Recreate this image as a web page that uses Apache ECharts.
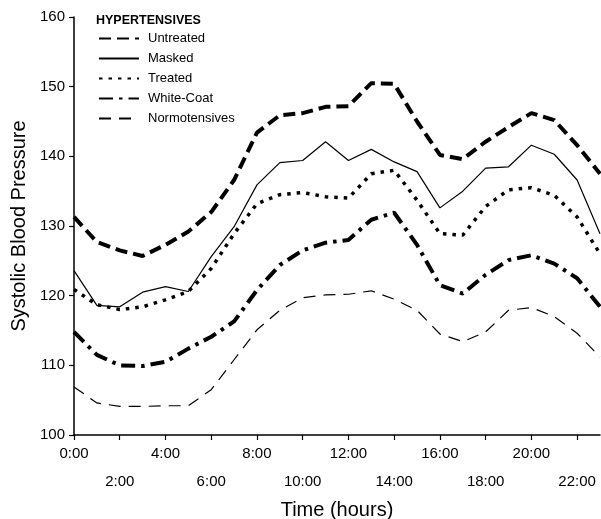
<!DOCTYPE html>
<html>
<head>
<meta charset="utf-8">
<script src="https://cdn.jsdelivr.net/npm/echarts@6/dist/echarts.min.js"></script>
<style>
html,body{margin:0;padding:0;background:#fff;}
#chart{width:601px;height:519px;}
</style>
</head>
<body>
<div id="chart"></div>
<script>
const hours = ['0:00','1:00','2:00','3:00','4:00','5:00','6:00','7:00','8:00','9:00','10:00','11:00',
  '12:00','13:00','14:00','15:00','16:00','17:00','18:00','19:00','20:00','21:00','22:00','23:00'];

const untreated = [131.3,127.7,126.5,125.7,127.3,129.2,132.0,136.6,143.4,145.9,146.2,147.1,
  147.2,150.5,150.4,145.0,140.2,139.6,142.1,144.2,146.2,145.2,141.6,137.5];
const masked = [123.6,118.6,118.4,120.5,121.3,120.6,125.6,129.9,135.9,139.1,139.4,142.1,
  139.4,141.0,139.2,137.8,132.6,135.0,138.3,138.5,141.6,140.3,136.6,128.9];
const treated = [120.9,118.7,118.0,118.4,119.4,120.6,123.9,128.9,133.2,134.5,134.8,134.2,
  134.0,137.5,138.0,133.7,128.9,128.7,132.8,135.2,135.5,134.4,131.3,126.0];
const whiteCoat = [114.8,111.5,110.0,109.9,110.5,112.4,114.1,116.3,120.8,124.4,126.5,127.6,
  128.0,130.9,131.9,127.3,121.5,120.3,123.0,125.1,125.8,124.6,122.5,118.4];
const normotensives = [106.9,104.6,104.1,104.1,104.2,104.2,106.5,110.8,115.1,117.9,119.7,120.1,
  120.2,120.7,119.5,117.9,114.5,113.4,114.8,117.9,118.3,117.0,114.6,111.2];

const seriesNames = ['Untreated','Masked','Treated','White-Coat','Normotensives'];
const yTicks = {min:100, max:160, interval:10};

const FONT = '"Liberation Sans", Arial, sans-serif';

const styles = [
  {width:4, type:[12,6]},
  {width:1.2, type:'solid'},
  {width:3.5, type:[3.5,6]},
  {width:4, type:[14,6,3.5,6]},
  {width:1.2, type:[12,8]}
];
const dataSets = [untreated, masked, treated, whiteCoat, normotensives];

const chart = echarts.init(document.getElementById('chart'), null, {renderer:'canvas'});
chart.setOption({
  animation:false,
  backgroundColor:'#fff',
  title:{
    text:'HYPERTENSIVES',
    left:91, top:9,
    textStyle:{fontFamily:FONT, fontSize:12.5, fontWeight:'bold', color:'#000'}
  },
  legend:{
    orient:'vertical',
    left:93, top:27,
    itemWidth:40, itemHeight:14, itemGap:7,
    data:seriesNames,
    itemStyle:{opacity:0},
    textStyle:{fontFamily:FONT, fontSize:13, color:'#000', padding:[0,0,0,4]},
    inactiveColor:'#000'
  },
  grid:{left:74, right:1, top:17, bottom:84, containLabel:false, outerBoundsMode:'none'},
  xAxis:{
    type:'category',
    data:hours,
    boundaryGap:false,
    name:'Time (hours)',
    nameLocation:'middle',
    nameGap:54,
    nameTextStyle:{fontFamily:FONT, fontSize:20, color:'#000'},
    axisLine:{lineStyle:{color:'#000', width:1.5}},
    axisTick:{interval:1, length:5, lineStyle:{color:'#000', width:1.2}},
    axisLabel:{
      interval:1,
      fontFamily:FONT, fontSize:15, color:'#000', lineHeight:28, margin:5,
      formatter:function(v, i){ return (i % 4 === 0) ? v : '\n' + v; }
    },
    splitLine:{show:false}
  },
  yAxis:{
    type:'value',
    min:yTicks.min, max:yTicks.max, interval:yTicks.interval,
    name:'Systolic Blood Pressure',
    nameLocation:'middle',
    nameGap:45,
    nameTextStyle:{fontFamily:FONT, fontSize:20, color:'#000'},
    axisLine:{show:true, lineStyle:{color:'#000', width:1.5}},
    axisTick:{show:true, length:5, lineStyle:{color:'#000', width:1.2}},
    axisLabel:{fontFamily:FONT, fontSize:15, color:'#000', margin:9},
    splitLine:{show:false}
  },
  series: seriesNames.map((n, k) => ({
    name:n,
    type:'line',
    data:dataSets[k],
    symbol:'none',
    smooth:false,
    lineStyle:{color:'#000', width:styles[k].width, type:styles[k].type},
    itemStyle:{color:'#000'},
    z: 10 - k
  }))
});
</script>
</body>
</html>
